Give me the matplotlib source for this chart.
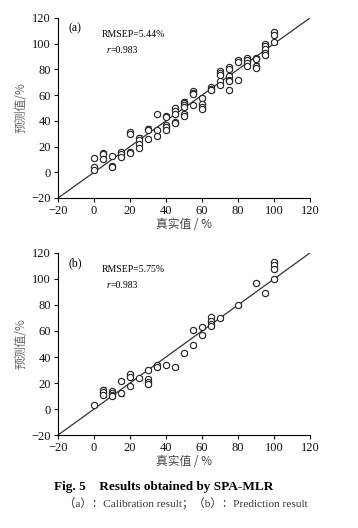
"""
Fig. 5 - SPA-MLR: valores reais x previstos (calibracao e predicao)
"""
import matplotlib.pyplot as plt

# --- dados (a): calibracao ---
cal_x = [0, 0, 0, 5, 5, 5, 10, 10, 10, 15, 15, 15, 20, 20, 20, 20,
         25, 25, 25, 25, 30, 30, 30, 35, 35, 35, 40, 40, 40, 40, 40,
         45, 45, 45, 45, 45, 50, 50, 50, 50, 50, 50, 55, 55, 55, 55,
         60, 60, 60, 60, 65, 65, 65, 70, 70, 70, 70, 70,
         75, 75, 75, 75, 75, 75, 80, 80, 80, 85, 85, 85, 85,
         90, 90, 90, 90, 95, 95, 95, 95, 95, 100, 100, 100]
cal_y = [11, 4, 2, 15, 14, 10, 13, 5, 4, 15.5, 14, 12, 31, 30, 16, 15,
         27, 25, 22, 19, 34, 33, 26, 45, 33, 28, 44, 43, 37, 35, 33,
         50, 48, 45, 39, 38, 55, 54, 52, 51, 45, 44, 63, 62, 61, 52,
         58, 53, 51, 49, 66, 65, 64, 79, 77, 76, 71, 68,
         82, 80, 75, 72, 71, 64, 87, 86, 72, 89, 87, 85, 83,
         89, 88, 83, 81, 100, 98, 96, 93, 91, 109, 107, 101]

# --- dados (b): predicao ---
pred_x = [0, 5, 5, 5, 10, 10, 10, 10, 15, 15, 20, 20, 20, 25,
          30, 30, 30, 30, 35, 35, 40, 45, 50, 55, 55, 60, 60,
          65, 65, 65, 65, 70, 80, 90, 95, 100, 100, 100, 100]
pred_y = [3, 15, 13, 11, 14, 12, 11, 10, 21.5, 12, 27, 25, 18, 24,
          30, 23, 21, 19, 34, 32, 34, 32, 43, 60.5, 49, 63, 57,
          71, 68, 65, 64, 70, 80, 97, 89, 113, 111, 108, 100]

ticks = [-20, 0, 20, 40, 60, 80, 100, 120]
serif = ["Liberation Serif", "Noto Sans CJK SC"]
cjk = ["Noto Sans CJK SC", "DejaVu Sans"]

plt.rcParams["font.family"] = serif
plt.rcParams["axes.linewidth"] = 0.8

fig = plt.figure(figsize=(3.58, 5.28), dpi=100)

paineis = [
    ([0.162, 0.625, 0.704, 0.341], cal_x, cal_y, "(a)", "RMSEP=5.44%", "0.983"),
    ([0.162, 0.176, 0.704, 0.345], pred_x, pred_y, "(b)", "RMSEP=5.75%", "0.983"),
]

for rect, xs, ys, tag, rmsep, r in paineis:
    ax = fig.add_axes(rect)
    ax.plot([-20, 120], [-20, 120], color="#333333", linewidth=0.9, zorder=1)
    ax.errorbar(xs, ys, yerr=1.6, fmt="o", markersize=4.5, markerfacecolor="white",
                markeredgecolor="#222222", markeredgewidth=0.8, ecolor="#222222",
                elinewidth=0.7, capsize=1.8, capthick=0.8, zorder=3)
    ax.set_xlim(-20, 120)
    ax.set_ylim(-20, 120)
    ax.set_xticks(ticks)
    ax.set_yticks(ticks)
    ax.tick_params(labelsize=9, length=3, width=0.8, direction="out",
                   colors="#111111", pad=2)
    for s in ["top", "right"]:
        ax.spines[s].set_visible(False)
    ax.text(-14, 112, tag, fontsize=8.5, va="center")
    ax.text(4, 107, rmsep, fontsize=7, va="center")
    ax.text(7, 95, "r", fontsize=7, va="center", style="italic")
    ax.text(9.2, 95, "=" + r, fontsize=7, va="center")
    ax.set_xlabel("真实值 / %", family=cjk, fontsize=8.5, color="#444444", labelpad=1)
    ax.set_ylabel("预测值/%", family=cjk, fontsize=8.5, color="#666666", labelpad=3)

fig.text(0.458, 0.072, "Fig. 5    Results obtained by SPA-MLR", ha="center",
         fontsize=9.5, fontweight="bold")
fig.text(0.52, 0.040, "（a）：Calibration result；（b）：Prediction result", ha="center",
         fontsize=8.2, color="#333333", family=serif)

plt.savefig("out.png", dpi=100)
print("Salvo: out.png")
